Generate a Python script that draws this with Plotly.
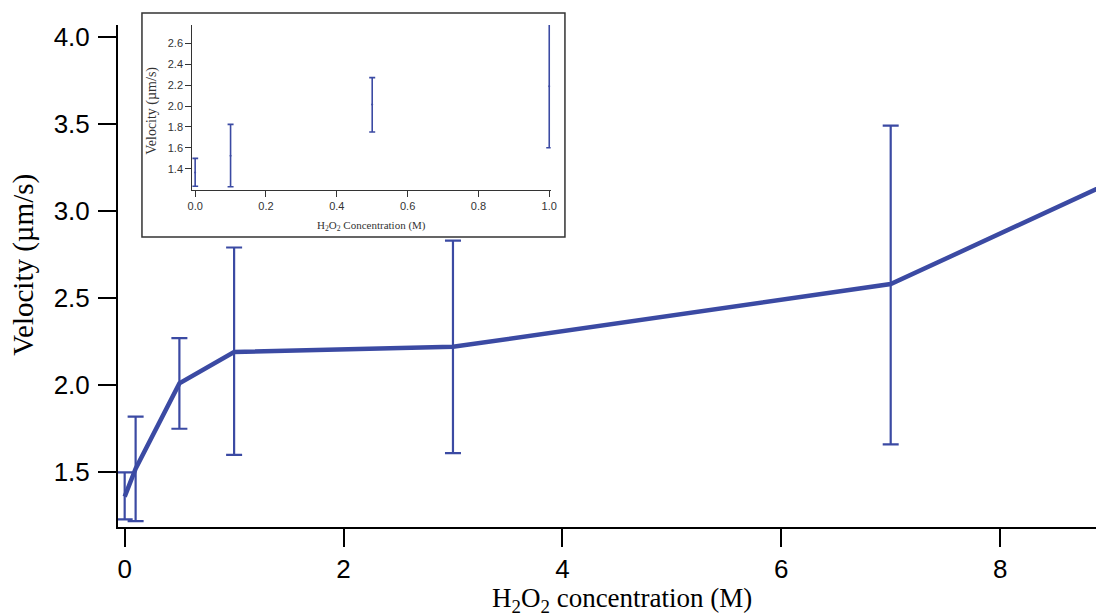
import plotly.graph_objects as go

# Main data: H2O2 concentration (M) vs velocity (um/s)
conc = [0, 0.1, 0.5, 1, 3, 7, 10]
velocity = [1.36, 1.52, 2.01, 2.19, 2.22, 2.58, 3.45]
err_up = [0.14, 0.30, 0.26, 0.60, 0.61, 0.91, 0.90]
err_down = [0.13, 0.30, 0.26, 0.59, 0.61, 0.92, 0.90]

# Inset data (low concentration)
inset_conc = [0, 0.1, 0.5, 1.0]
inset_vel = [1.365, 1.525, 2.015, 2.19]
inset_up = [0.135, 0.30, 0.257, 0.596]
inset_down = [0.131, 0.297, 0.263, 0.589]

main_ticks_x = [0, 2, 4, 6, 8]
main_ticks_y = [1.5, 2.0, 2.5, 3.0, 3.5, 4.0]
inset_ticks_x = [0.0, 0.2, 0.4, 0.6, 0.8, 1.0]
inset_ticks_y = [1.4, 1.6, 1.8, 2.0, 2.2, 2.4, 2.6]

BLUE = "#3b4aa3"
SANS = "Liberation Sans, Arial, sans-serif"
SERIF = "Liberation Serif, Times New Roman, serif"

fig = go.Figure()

fig.add_trace(go.Scatter(
    x=conc, y=velocity, mode="lines",
    line=dict(color=BLUE, width=4.5),
    error_y=dict(type="data", symmetric=False, array=err_up, arrayminus=err_down,
                 color=BLUE, thickness=2.2, width=8),
    showlegend=False, xaxis="x", yaxis="y",
))

fig.add_trace(go.Scatter(
    x=inset_conc, y=inset_vel, mode="markers",
    marker=dict(color=BLUE, size=2),
    error_y=dict(type="data", symmetric=False, array=inset_up, arrayminus=inset_down,
                 color=BLUE, thickness=1.6, width=3),
    showlegend=False, xaxis="x2", yaxis="y2",
))

fig.update_layout(
    width=1096, height=615,
    margin=dict(l=118, r=0, t=25, b=88, pad=0, autoexpand=False),
    paper_bgcolor="white", plot_bgcolor="white",
    xaxis=dict(
        domain=[0, 1], range=[-0.061, 8.876], tickvals=main_ticks_x, automargin=False,
        showgrid=False, zeroline=False, showline=True, linecolor="black", linewidth=2,
        ticks="outside", ticklen=18, tickwidth=2, tickcolor="black",
        tickfont=dict(family=SANS, size=26, color="black"),
        ticklabelstandoff=0,
    ),
    yaxis=dict(
        domain=[0, 1], range=[1.186, 4.067], tickvals=main_ticks_y, automargin=False,
        tickformat=".1f",
        showgrid=False, zeroline=False, showline=True, linecolor="black", linewidth=2,
        ticks="outside", ticklen=18, tickwidth=2, tickcolor="black",
        tickfont=dict(family=SANS, size=26, color="black"),
        ticklabelstandoff=3,
    ),
    xaxis2=dict(
        domain=[0.076, 0.4424], range=[-0.008, 1.004], anchor="y2", automargin=False,
        tickvals=inset_ticks_x, tickformat=".1f",
        showgrid=False, zeroline=False, showline=True, linecolor="#333", linewidth=1.2,
        ticks="outside", ticklen=6, tickwidth=1, tickcolor="#333",
        tickfont=dict(family=SANS, size=11, color="#333"),
    ),
    yaxis2=dict(
        domain=[0.671, 1.0], range=[1.196, 2.775], anchor="x2", automargin=False,
        tickvals=inset_ticks_y, tickformat=".1f",
        showgrid=False, zeroline=False, showline=True, linecolor="#333", linewidth=1.2,
        ticks="outside", ticklen=6, tickwidth=1, tickcolor="#333",
        tickfont=dict(family=SANS, size=11, color="#333"),
    ),
    shapes=[dict(
        type="rect", xref="paper", yref="paper",
        x0=0.0245, x1=0.457, y0=0.5775, y1=1.024,
        line=dict(color="#333", width=1.5), layer="below",
    )],
    annotations=[
        dict(text="H<sub>2</sub>O<sub>2</sub> concentration (M)", xref="paper", yref="paper",
             x=0.5155, y=-0.146, showarrow=False, xanchor="center", yanchor="middle",
             font=dict(family=SERIF, size=27, color="black")),
        dict(text="Velocity (µm/s)", xref="paper", yref="paper", textangle=-90,
             x=-0.0966, y=0.5216, showarrow=False, xanchor="center", yanchor="middle",
             font=dict(family=SERIF, size=29, color="black")),
        dict(text="H<sub>2</sub>O<sub>2</sub> Concentration (M)", xref="paper", yref="paper",
             x=0.2597, y=0.599, showarrow=False, xanchor="center", yanchor="middle",
             font=dict(family=SERIF, size=11, color="#333")),
        dict(text="Velocity (µm/s)", xref="paper", yref="paper", textangle=-90,
             x=0.0345, y=0.8286, showarrow=False, xanchor="center", yanchor="middle",
             font=dict(family=SERIF, size=14, color="#333")),
    ],
)

fig.write_html(
    "out.html",
    post_script="document.body.style.margin='0';document.body.style.overflow='hidden';",
    config={"displayModeBar": False},
)
